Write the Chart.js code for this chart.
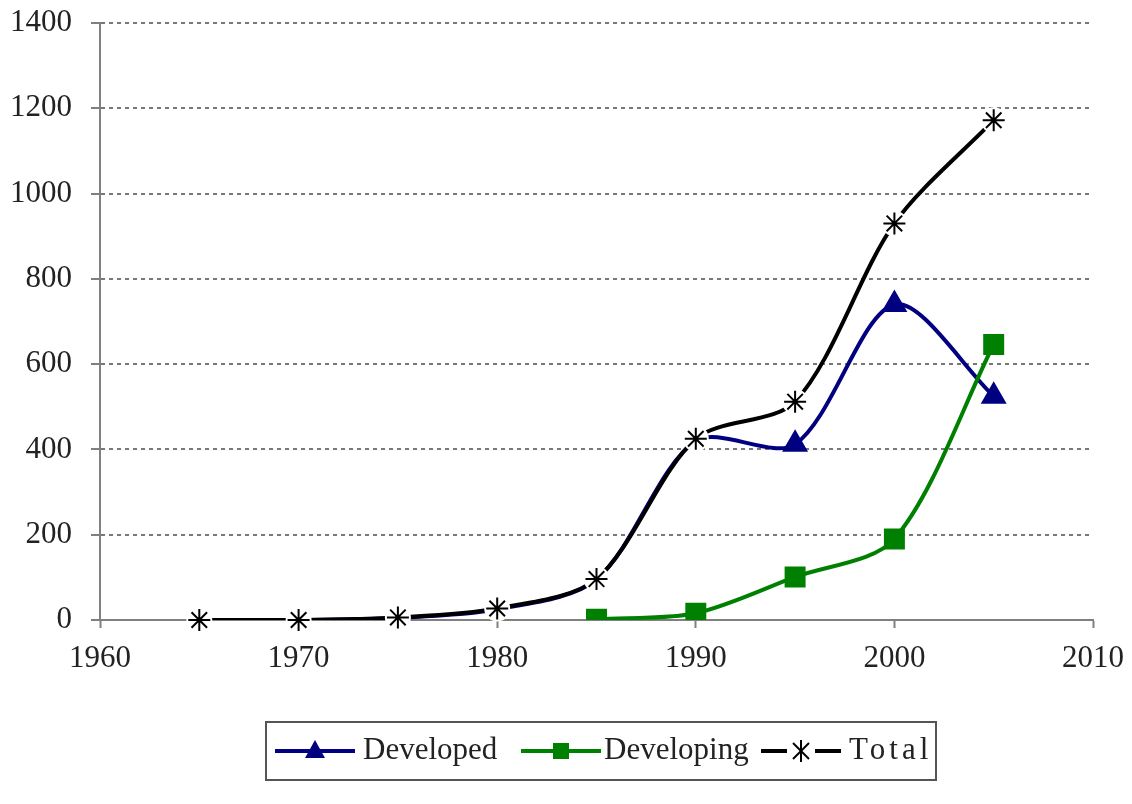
<!DOCTYPE html>
<html>
<head>
<meta charset="utf-8">
<script src="https://cdn.jsdelivr.net/npm/chart.js@4"></script>
<style>
    body { margin: 0; background: #fff; }
    #wrap { position: relative; width: 1132px; height: 804px; }
    #legend {
        position: absolute; left: 265px; top: 721px; width: 668px; height: 56px;
        border: 2px solid #555; box-sizing: content-box;
        font-family: "Liberation Serif", "DejaVu Serif", serif; font-size: 31px; color: #222;
    }
    .item { position: absolute; top: 0; height: 56px; }
    .item svg { position: absolute; top: 0; }
    .item span { position: absolute; top: 8px; white-space: nowrap; }
</style>
</head>
<body>
<div id="wrap">
    <canvas id="chart" width="1132" height="804"></canvas>
    <div id="legend"></div>
</div>
<script>
// Data
const years = [1965, 1970, 1975, 1980, 1985, 1990, 1995, 2000, 2005];
const developed = [0, 0, 5, 25, 95, 420, 412, 740, 525];
const developing = [null, null, null, null, 2, 16, 101, 190, 646];
const total = [0, 0, 6, 27, 96, 425, 512, 930, 1172];
const developedMarkers = [0, 0, 0, 0, 0, 0, 11, 11, 11];

const seriesNames = ['Developed', 'Developing', 'Total'];
const seriesColors = ['#000080', '#008000', '#000000'];

const FONT = '"Liberation Serif", "DejaVu Serif", serif';

// Pair years with values, dropping empty points
function toPoints(values) {
    return years.map((x, i) => ({ x: x, y: values[i] })).filter(p => p.y !== null);
}

// White halo around the Total markers, like the original chart
const markerHalo = {
    id: 'markerHalo',
    afterDatasetsDraw(chart) {
        const c = chart.ctx;
        const meta = chart.getDatasetMeta(2);
        c.save();
        c.fillStyle = '#ffffff';
        meta.data.forEach(pt => {
            c.beginPath();
            c.arc(pt.x, pt.y, 13, 0, Math.PI * 2);
            c.fill();
        });
        c.restore();
        meta.data.forEach(pt => pt.draw(c, chart.chartArea));
    }
};

const ctx = document.getElementById('chart').getContext('2d');

window.mainChart = new Chart(ctx, {
    type: 'line',
    data: {
        datasets: [
            {
                label: seriesNames[0],
                data: toPoints(developed),
                borderColor: seriesColors[0],
                backgroundColor: seriesColors[0],
                borderWidth: 4,
                tension: 0.3,
                pointStyle: 'triangle',
                pointRadius: developedMarkers,
                order: 2
            },
            {
                label: seriesNames[1],
                data: toPoints(developing),
                borderColor: seriesColors[1],
                backgroundColor: seriesColors[1],
                borderWidth: 4,
                tension: 0.3,
                pointStyle: 'rect',
                pointRadius: 12,
                order: 1
            },
            {
                label: seriesNames[2],
                data: toPoints(total),
                borderColor: seriesColors[2],
                backgroundColor: seriesColors[2],
                borderWidth: 4,
                tension: 0.3,
                pointStyle: 'star',
                pointRadius: 11,
                pointBorderWidth: 2,
                order: 0
            }
        ]
    },
    plugins: [markerHalo],
    options: {
        responsive: false,
        animation: false,
        layout: { padding: { top: 23, right: 39, left: 0, bottom: 0 } },
        plugins: {
            legend: { display: false },
            tooltip: { enabled: false }
        },
        scales: {
            x: {
                type: 'linear',
                min: 1960,
                max: 2010,
                ticks: {
                    stepSize: 10,
                    padding: 12,
                    color: '#222',
                    font: { family: FONT, size: 31 },
                    callback: v => String(v)
                },
                grid: {
                    drawOnChartArea: false,
                    tickLength: 8,
                    tickColor: '#808080',
                    tickWidth: 2
                },
                border: { color: '#808080', width: 2 },
                afterFit: scale => {
                    scale.height = 184;
                    scale.paddingLeft = 0;
                    scale.paddingRight = 0;
                }
            },
            y: {
                min: 0,
                max: 1400,
                ticks: {
                    stepSize: 200,
                    padding: 19,
                    color: '#222',
                    font: { family: FONT, size: 31 },
                    callback: v => String(v)
                },
                grid: {
                    color: '#777777',
                    lineWidth: 2,
                    tickBorderDash: [],
                    tickLength: 9,
                    tickColor: '#808080',
                    tickWidth: 2
                },
                border: { color: '#808080', width: 2, dash: [4, 4] },
                afterFit: scale => {
                    scale.width = 100;
                    scale.paddingTop = 0;
                    scale.paddingBottom = 0;
                }
            }
        }
    }
});

// Legend: line + marker symbol followed by the series name
const legendItems = [
    { name: seriesNames[0], color: seriesColors[0], marker: 'triangle', left: 8, text: 96 },
    { name: seriesNames[1], color: seriesColors[1], marker: 'square', left: 254, text: 337 },
    { name: seriesNames[2], color: seriesColors[2], marker: 'star', left: 494, text: 582 }
];

function markerSvg(type, color) {
    if (type === 'triangle') return `<polygon points="40,17 50,35 30,35" fill="${color}"/>`;
    if (type === 'square') return `<rect x="32" y="20" width="16" height="16" fill="${color}"/>`;
    return `<g stroke="${color}" stroke-width="2">
        <line x1="40" y1="17" x2="40" y2="39"/>
        <line x1="32" y1="20" x2="48" y2="36"/>
        <line x1="48" y1="20" x2="32" y2="36"/></g>`;
}

const legend = document.getElementById('legend');
legendItems.forEach(item => {
    const div = document.createElement('div');
    div.className = 'item';
    div.style.left = item.left + 'px';
    const isStar = item.marker === 'star';
    const line = isStar
        ? `<line x1="0" y1="28" x2="26" y2="28" stroke="${item.color}" stroke-width="4"/>
           <line x1="54" y1="28" x2="80" y2="28" stroke="${item.color}" stroke-width="4"/>`
        : `<line x1="0" y1="28" x2="80" y2="28" stroke="${item.color}" stroke-width="4"/>`;
    div.innerHTML = `<svg width="80" height="56">${line}${markerSvg(item.marker, item.color)}</svg>
        <span style="left:${item.text - item.left}px;${isStar ? 'letter-spacing:4px;' : ''}">${item.name}</span>`;
    legend.appendChild(div);
});
</script>
</body>
</html>
